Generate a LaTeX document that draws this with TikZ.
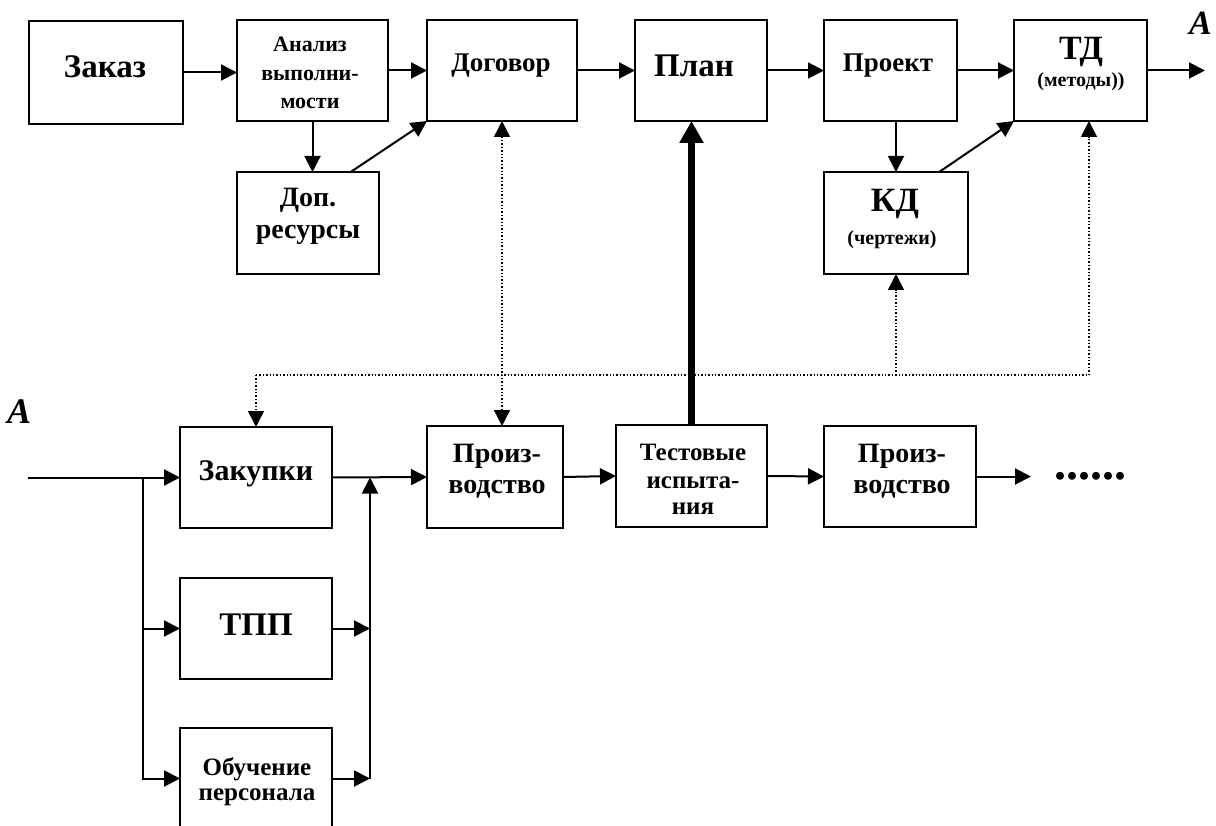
\documentclass[tikz,border=0pt]{standalone}
\usepackage{fontspec}
\setmainfont{Liberation Serif}
\usetikzlibrary{arrows.meta,calc}

\tikzset{
  blk/.style 2 args={draw, line width=1.8pt, inner sep=0pt, outer sep=0pt,
    minimum width=#1, minimum height=#2},
  lbl/.style={anchor=base, inner sep=0pt, outer sep=0pt,
    font=\bfseries\fontsize{#1}{#1}\selectfont},
  mark/.style={anchor=base west, inner sep=0pt, outer sep=0pt,
    font=\bfseries\itshape\fontsize{#1}{#1}\selectfont},
  tip/.tip={Triangle[length=16pt, width=16pt]},
  arr/.style={line width=2pt, -tip},
  fat/.style={line width=7pt, -{Triangle[length=22pt, width=23pt]}},
  dots/.style={line width=1.4pt, dotted},
}

\begin{document}
\begin{tikzpicture}[x=1pt, y=-1pt]
  \useasboundingbox (0,0) rectangle (1216,826);
  \clip (0,0) rectangle (1216,826);

  % upper row of blocks
  \node[blk={154pt}{103pt}] (zakaz)   at (106,72.5)   {};
  \node[blk={151pt}{101pt}] (analiz)  at (312.5,70.5) {};
  \node[blk={142pt}{102pt}] (dop)     at (308,223)    {};
  \node[blk={150pt}{101pt}] (dogovor) at (502,70.5)   {};
  \node[blk={132pt}{101pt}] (plan)    at (701,70.5)   {};
  \node[blk={133pt}{101pt}] (proekt)  at (890.5,70.5) {};
  \node[blk={133pt}{101pt}] (td)      at (1080.5,70.5){};
  \node[blk={144pt}{102pt}] (kd)      at (896,223)    {};

  % lower row of blocks
  \node[blk={152pt}{101pt}] (zakupki) at (256,477.5)  {};
  \node[blk={152pt}{101pt}] (tpp)     at (256,628.5)  {};
  \node[blk={152pt}{101pt}] (obuch)   at (256,778.5)  {};
  \node[blk={136pt}{102pt}] (proizvA) at (495,477)    {};
  \node[blk={151pt}{102pt}] (test)    at (691.5,476)  {};
  \node[blk={152pt}{101pt}] (proizvB) at (900,476.5)  {};

  % block captions
  \node[lbl=33] (zakaz-t)    at (105,78)  {Заказ};
  \node[lbl=22] (analiz-t1)  at (310,52)  {Анализ};
  \node[lbl=22] (analiz-t2)  at (310,81)  {выполни-};
  \node[lbl=22] (analiz-t3)  at (310,109) {мости};
  \node[lbl=28] (dop-t1)     at (308,207) {Доп.};
  \node[lbl=28] (dop-t2)     at (308,239) {ресурсы};
  \node[lbl=27] (dogovor-t)  at (501,72)  {Договор};
  \node[lbl=33] (plan-t)     at (694,77)  {План};
  \node[lbl=27] (proekt-t)   at (888,72)  {Проект};
  \node[lbl=34] (td-t1)      at (1081,60) {ТД};
  \node[lbl=20] (td-t2)      at (1081,87) {(методы))};
  \node[lbl=34] (kd-t1)      at (895,212) {КД};
  \node[lbl=20] (kd-t2)      at (892,245) {(чертежи)};
  \node[lbl=30] (zakupki-t)  at (256,480) {Закупки};
  \node[lbl=33] (tpp-t)      at (256,635) {ТПП};
  \node[lbl=25] (obuch-t1)   at (257,775) {Обучение};
  \node[lbl=25] (obuch-t2)   at (257,800) {персонала};
  \node[lbl=28] (proizvA-t1) at (497,462) {Произ-};
  \node[lbl=28] (proizvA-t2) at (497,493) {водство};
  \node[lbl=25] (test-t1)    at (693,460) {Тестовые};
  \node[lbl=25] (test-t2)    at (693,488) {испыта-};
  \node[lbl=25] (test-t3)    at (693,514) {ния};
  \node[lbl=28] (proizvB-t1) at (902,462) {Произ-};
  \node[lbl=28] (proizvB-t2) at (902,493) {водство};

  % continuation marks
  \node[mark=34] (markR) at (1189,35)  {A};
  \node[mark=36] (markL) at (7,423)    {A};
  \node[lbl=48, anchor=base west] (more) at (1054,479) {......};

  % upper flow
  \draw[arr] (zakaz.east) -- (zakaz.east -| analiz.west);
  \draw[arr] (analiz.east) -- (dogovor.west);
  \draw[arr] (analiz.south) -- (analiz.south |- dop.north);
  \draw[arr] ($(dop.north west)!0.8!(dop.north east)$) -- (dogovor.south west);
  \draw[arr] (dogovor.east) -- (plan.west);
  \draw[arr] (plan.east) -- (proekt.west);
  \draw[arr] (proekt.east) -- (td.west);
  \draw[arr] (proekt.south -| kd.north) -- (kd.north);
  \draw[arr] ($(kd.north west)!0.8!(kd.north east)$) -- (td.south west);
  \coordinate (out) at (1205,70.5);
  \draw[arr] (td.east) -- (out);

  % lower flow
  \coordinate (in)    at (28,477.5);
  \coordinate (split) at (143,477.5);
  \coordinate (merge) at (370,477.5);
  \draw[arr] (in) -- (zakupki.west);
  \draw[arr] (split) |- (tpp.west);
  \draw[arr] (split) |- (obuch.west);
  \draw[arr] (tpp.east) -- (merge |- tpp.east);
  \draw[arr] (obuch.east) -- (merge |- obuch.east);
  \draw[arr] (merge |- obuch.east) -- (merge);
  \draw[arr] (zakupki.east) -- (proizvA.west);
  \draw[arr] (proizvA.east) -- (test.west);
  \draw[arr] (test.east) -- (proizvB.west);
  \coordinate (cont) at (1031,476.5);
  \draw[arr] (proizvB.east) -- (cont);

  % feedback from testing to the plan
  \draw[fat] (test.north) -- (test.north |- plan.south);

  % information links
  \coordinate (busL) at (256,375);
  \coordinate (busR) at (1089,375);
  \draw[dots, tip-tip] (dogovor.south) -- (dogovor.south |- proizvA.north);
  \draw[dots] (busL) -- (busR);
  \draw[dots, -tip] (busL) -- (zakupki.north);
  \draw[dots, -tip] (busR) -- (busR |- td.south);
  \draw[dots, -tip] (kd.south |- busL) -- (kd.south);
\end{tikzpicture}
\end{document}
